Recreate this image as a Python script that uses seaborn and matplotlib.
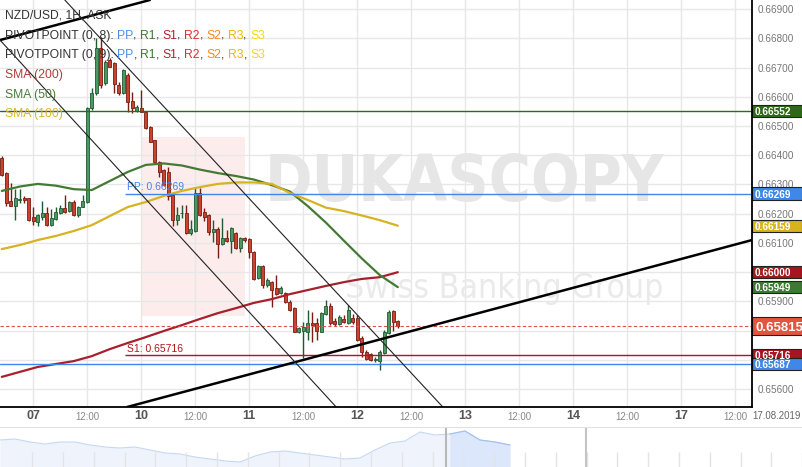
import numpy as np
import pandas as pd
import matplotlib
matplotlib.use("Agg")
import matplotlib.pyplot as plt
import matplotlib.transforms as mtransforms
from matplotlib import font_manager
from matplotlib.patches import Rectangle
import seaborn as sns

# NZD/USD 1H ask candles, hour 0 = day "07" 00:00
hours = np.arange(-7, 82)
opens = [0.66391, 0.66339, 0.66244, 0.66228, 0.66247, 0.66255, 0.66253, 0.66188, 0.66173, 0.66188,
         0.66201, 0.66162, 0.66182, 0.66201, 0.66219, 0.66210, 0.66241, 0.66196, 0.66224, 0.66240,
         0.66561, 0.66612, 0.66766, 0.66646, 0.66726, 0.66714, 0.66640, 0.66612, 0.66675, 0.66587,
         0.66552, 0.66563, 0.66549, 0.66498, 0.66452, 0.66378, 0.66350, 0.66343, 0.66264, 0.66179,
         0.66201, 0.66202, 0.66135, 0.66142, 0.66270, 0.66205, 0.66196, 0.66138, 0.66147, 0.66096,
         0.66116, 0.66108, 0.66135, 0.66082, 0.66116, 0.66113, 0.66070, 0.65979, 0.66022, 0.65956,
         0.65968, 0.65945, 0.65929, 0.65929, 0.65899, 0.65877, 0.65797, 0.65800, 0.65797, 0.65827,
         0.65825, 0.65797, 0.65858, 0.65885, 0.65834, 0.65822, 0.65839, 0.65826, 0.65844, 0.65844,
         0.65775, 0.65727, 0.65720, 0.65700, 0.65696, 0.65724, 0.65792, 0.65867, 0.65833]
highs = [0.66399, 0.66343, 0.66305, 0.66285, 0.66285, 0.66261, 0.66254, 0.66224, 0.66199, 0.66244,
         0.66224, 0.66216, 0.66224, 0.66230, 0.66264, 0.66244, 0.66247, 0.66227, 0.66264, 0.66566,
         0.66629, 0.66801, 0.66804, 0.66726, 0.66733, 0.66719, 0.66651, 0.66695, 0.66681, 0.66617,
         0.66572, 0.66623, 0.66551, 0.66500, 0.66453, 0.66380, 0.66353, 0.66360, 0.66271, 0.66223,
         0.66230, 0.66230, 0.66179, 0.66293, 0.66288, 0.66220, 0.66199, 0.66179, 0.66153, 0.66184,
         0.66144, 0.66155, 0.66138, 0.66120, 0.66121, 0.66118, 0.66073, 0.66025, 0.66025, 0.65980,
         0.65970, 0.65990, 0.65953, 0.65932, 0.65905, 0.65881, 0.65813, 0.65830, 0.65871, 0.65865,
         0.65844, 0.65864, 0.65905, 0.65895, 0.65844, 0.65853, 0.65853, 0.65888, 0.65858, 0.65853,
         0.65782, 0.65734, 0.65724, 0.65710, 0.65734, 0.65802, 0.65871, 0.65871, 0.65837]
lows = [0.66330, 0.66227, 0.66225, 0.66179, 0.66237, 0.66237, 0.66175, 0.66162, 0.66158, 0.66179,
        0.66158, 0.66158, 0.66179, 0.66199, 0.66204, 0.66206, 0.66192, 0.66189, 0.66223, 0.66238,
        0.66555, 0.66606, 0.66630, 0.66640, 0.66702, 0.66613, 0.66606, 0.66609, 0.66549, 0.66546,
        0.66548, 0.66548, 0.66490, 0.66445, 0.66377, 0.66327, 0.66295, 0.66247, 0.66158, 0.66162,
        0.66185, 0.66131, 0.66127, 0.66138, 0.66192, 0.66175, 0.66127, 0.66104, 0.66049, 0.66093,
        0.66104, 0.66066, 0.66080, 0.66070, 0.66104, 0.66049, 0.65973, 0.65977, 0.65946, 0.65949,
        0.65882, 0.65922, 0.65925, 0.65895, 0.65867, 0.65796, 0.65792, 0.65707, 0.65768, 0.65762,
        0.65768, 0.65796, 0.65853, 0.65820, 0.65816, 0.65820, 0.65826, 0.65823, 0.65823, 0.65765,
        0.65710, 0.65700, 0.65696, 0.65693, 0.65666, 0.65720, 0.65789, 0.65799, 0.65809]
closes = [0.66332, 0.66237, 0.66228, 0.66253, 0.66252, 0.66247, 0.66179, 0.66175, 0.66196, 0.66204,
          0.66162, 0.66184, 0.66207, 0.66219, 0.66207, 0.66241, 0.66196, 0.66224, 0.66244, 0.66561,
          0.66612, 0.66766, 0.66640, 0.66719, 0.66703, 0.66644, 0.66612, 0.66692, 0.66583, 0.66561,
          0.66566, 0.66549, 0.66492, 0.66446, 0.66378, 0.66344, 0.66298, 0.66261, 0.66179, 0.66196,
          0.66204, 0.66135, 0.66147, 0.66270, 0.66196, 0.66188, 0.66138, 0.66147, 0.66096, 0.66116,
          0.66108, 0.66150, 0.66082, 0.66116, 0.66110, 0.66070, 0.65976, 0.66022, 0.65956, 0.65973,
          0.65939, 0.65925, 0.65946, 0.65899, 0.65871, 0.65797, 0.65808, 0.65814, 0.65826, 0.65820,
          0.65799, 0.65860, 0.65885, 0.65825, 0.65823, 0.65846, 0.65831, 0.65871, 0.65830, 0.65768,
          0.65727, 0.65703, 0.65700, 0.65702, 0.65727, 0.65796, 0.65864, 0.65830, 0.65815]

# moving averages, read every 4th hour
sma_hours = np.arange(-7, 82, 4)
sma200 = [0.65642, 0.65659, 0.65676, 0.65686, 0.65696, 0.65713, 0.65737, 0.65758, 0.65778, 0.65799,
          0.65819, 0.65840, 0.65860, 0.65877, 0.65895, 0.65908, 0.65925, 0.65939, 0.65953, 0.65966,
          0.65977, 0.65983, 0.66000]
sma50 = [0.66278, 0.66293, 0.66302, 0.66296, 0.66284, 0.66281, 0.66312, 0.66343, 0.66367, 0.66372,
         0.66365, 0.66351, 0.66339, 0.66329, 0.66317, 0.66298, 0.66276, 0.66226, 0.66170, 0.66108,
         0.66047, 0.65990, 0.65949]
sma100 = [0.66079, 0.66093, 0.66110, 0.66124, 0.66141, 0.66161, 0.66192, 0.66223, 0.66240, 0.66261,
          0.66278, 0.66291, 0.66302, 0.66307, 0.66307, 0.66302, 0.66271, 0.66247, 0.66221, 0.66209,
          0.66194, 0.66178, 0.66159]

# pivot / level lines
pp_level = 0.66269
s1_level = 0.65716
upper_level = 0.66552
lower_level = 0.65687
last_price = 0.65815
pivot_start = 20.4

# drawn trend lines, (hour, price) anchor pairs
trend_main = [(21.1, 0.65540), (159.7, 0.66110)]
trend_upper = [(-7.4, 0.66794), (25.9, 0.66931)]
channel_a = [(7.0, 0.66931), (91.0, 0.65539)]
channel_b = [(-7.4, 0.66794), (67.3, 0.65539)]

day_hours = [0, 24, 48, 72, 96, 120, 144]
day_labels = ["07", "10", "11", "12", "13", "14", "17"]
mid_hours = [12, 36, 60, 84, 108, 132, 156]
price_ticks = np.arange(656, 670) / 1000
hidden_ticks = [0.657, 0.658, 0.660]   # covered by price tags

# price tags on the right axis (drawn in this order)
tag_prices = [0.66552, 0.66269, 0.66159, 0.66000, 0.65949, 0.65716, 0.65687, 0.65815]
tag_colors = ["#2d6a17", "#3f87e8", "#d8b31e", "#a5161f", "#3c7a31", "#a5161f", "#3f87e8", "#e2553e"]

# navigator (long history) levels
nav_level = [27, 28, 25, 23, 25, 25, 22, 20, 19, 20, 17, 14, 13, 10, 8, 6, 5, 11, 15, 16,
             14, 12, 10, 8, 9, 17, 24, 26, 35, 32, 33, 36, 27, 25, 22]

sns.set_style("white")
plt.rcParams['font.family'] = ['Liberation Sans', 'DejaVu Sans']

fig = plt.figure(figsize=(8.03, 4.67), dpi=100)
ax = fig.add_axes([0, 60 / 467, 752 / 803, 407 / 467])
ax.set_xlim(-7.4, 159.7)
ax.set_ylim(0.65539, 0.66931)

# grid
ax.set_xticks(day_hours)
ax.set_xticklabels(day_labels)
ax.set_xticks(mid_hours, minor=True)
ax.set_xticklabels(["12:00"] * len(mid_hours), minor=True)
ax.set_yticks(price_ticks)
ax.set_yticklabels(["" if any(abs(p - q) < 1e-7 for q in hidden_ticks) else f"{p:.5f}"
                    for p in price_ticks])
ax.yaxis.tick_right()
ax.grid(True, which="both", color="#e7e7e7", lw=1, zorder=0)
ax.set_axisbelow(True)
ax.tick_params(axis="y", length=0, pad=4, labelsize=7.2, labelcolor="#777777")
ax.tick_params(axis="x", which="major", length=0, pad=2.5, labelsize=9, labelcolor="#555555")
ax.tick_params(axis="x", which="minor", length=0, pad=3.5, labelsize=7, labelcolor="#888888")
for lab in ax.get_xticklabels():
    lab.set_fontweight("bold")
for side in ["left", "top"]:
    ax.spines[side].set_visible(False)
for side in ["right", "bottom"]:
    ax.spines[side].set_color("black")
    ax.spines[side].set_linewidth(1.3)
    ax.spines[side].set_zorder(20)

# watermark
names = {f.name for f in font_manager.fontManager.ttflist}
wm_font = "Liberation Sans Narrow" if "Liberation Sans Narrow" in names else "DejaVu Sans"
ax.add_patch(Rectangle((0.1875, 0.224), 0.138, 0.44, transform=ax.transAxes,
                       color="#fcecec", zorder=0.5, lw=0))
wm1 = ax.text(0.618, 0.55, "DUKASCOPY", transform=ax.transAxes, ha="center", va="center",
              fontsize=50, fontweight="heavy", fontstretch="condensed", color="#e6e6e6",
              family=wm_font, zorder=0.6)
wm2 = ax.text(0.67, 0.29, "Swiss Banking Group", transform=ax.transAxes, ha="center",
              va="center", fontsize=30, fontstretch="condensed", color="#eaeaea",
              family=wm_font, zorder=0.6)
fig.canvas.draw()
wm1.set_fontsize(50 * 400 / wm1.get_window_extent().width)
wm2.set_fontsize(30 * 318 / wm2.get_window_extent().width)

# candles
df = pd.DataFrame(dict(hour=hours, open=opens, high=highs, low=lows, close=closes))
up = df["close"] >= df["open"]
fill = np.where(up, "#4b9862", "#c9432f")
edge = np.where(up, "#1f5a32", "#7a1c12")
ax.vlines(df["hour"], df["low"], df["high"], colors=edge, lw=1, zorder=4)
body = (df["close"] - df["open"]).abs().clip(lower=0.00003)
ax.bar(df["hour"], body, bottom=df[["open", "close"]].min(axis=1), width=0.66,
       color=fill, edgecolor=edge, linewidth=0.6, zorder=5)

# moving averages
sma_df = pd.DataFrame(dict(hour=sma_hours, sma200=sma200, sma50=sma50, sma100=sma100))
sns.lineplot(data=sma_df, x="hour", y="sma200", ax=ax, color="#a8202b", lw=1.6, zorder=6)
sns.lineplot(data=sma_df, x="hour", y="sma50", ax=ax, color="#447a34", lw=1.6, zorder=6)
sns.lineplot(data=sma_df, x="hour", y="sma100", ax=ax, color="#d6b321", lw=1.6, zorder=6)
ax.set_xlabel("")
ax.set_ylabel("")

# horizontal levels
ax.axhline(upper_level, color="#2d6a17", lw=1, zorder=7)
ax.axhline(lower_level, color="#3f87e8", lw=1, zorder=7)
ax.hlines(pp_level, pivot_start, 159.7, color="#3f87e8", lw=1, zorder=7)
ax.hlines(s1_level, pivot_start, 159.7, color="#b0141c", lw=1, zorder=7)
ax.axhline(last_price, color="#d9534f", lw=0.8, ls=(0, (3, 2)), zorder=7)
ax.annotate(f"PP: {pp_level:.5f}", (pivot_start + 0.4, pp_level), xytext=(0, 1),
            textcoords="offset points", va="bottom", fontsize=7.5, color="#3f87e8", zorder=8)
ax.annotate(f"S1: {s1_level:.5f}", (pivot_start + 0.4, s1_level), xytext=(0, 1),
            textcoords="offset points", va="bottom", fontsize=7.5, color="#b0141c", zorder=8)

# trend lines
ax.axline(*trend_main, color="black", lw=1.8, zorder=8)
ax.axline(*trend_upper, color="black", lw=1.8, zorder=8)
ax.axline(*channel_a, color="#222222", lw=0.8, zorder=8)
ax.axline(*channel_b, color="#222222", lw=0.8, zorder=8)

# price tags
tag_tr = mtransforms.blended_transform_factory(ax.transAxes, ax.transData)
for price, col in zip(tag_prices, tag_colors):
    big = price == last_price
    h = 0.00062 if big else 0.00042
    ax.add_patch(Rectangle((1.0, price - h / 2), 50 / 752, h, transform=tag_tr, clip_on=False,
                           facecolor=col, edgecolor="#222222", lw=0.8, zorder=15))
    ax.text(1.004, price, f"{price:.5f}", transform=tag_tr, va="center_baseline", ha="left",
            fontsize=9.5 if big else 7.2, fontweight="bold", color="white", zorder=16,
            clip_on=False)

# legend-style header
def header(parts, y_px):
    t = ax.text(5 / 752, 1 - (y_px + 6) / 407, parts[0][0], transform=ax.transAxes,
                va="bottom", ha="left", fontsize=8.7, color=parts[0][1], zorder=18)
    for s, c in parts[1:]:
        t = ax.annotate(s, xy=(1, 0), xycoords=t, va="bottom", ha="left",
                        fontsize=8.7, color=c, zorder=18)

dark = "#333333"
pivot_parts = [("PP", "#4a8fe7"), (", ", dark), ("R1", "#3c7a2e"), (", ", dark), ("S1", "#b4232a"),
               (", ", dark), ("R2", "#e52b2b"), (", ", dark), ("S2", "#f08a24"), (", ", dark),
               ("R3", "#f2b705"), (", ", dark), ("S3", "#f1dc14")]
header([("NZD/USD, 1H, ASK", dark)], 16)
header([("PIVOTPOINT (0, 8): ", dark)] + pivot_parts, 36)
header([("PIVOTPOINT (0, 9): ", dark)] + pivot_parts, 55)
header([("SMA (200)", "#b23a3a")], 75)
header([("SMA (50)", "#4a7a3d")], 95)
header([("SMA (100)", "#d9b52a")], 114)

fig.text(777 / 803, 1 - 416 / 467, "17.08.2019", ha="center", va="center",
         fontsize=7, color="#666666")

# navigator strip
nav = fig.add_axes([0, 0, 1, 40 / 467])
idx = np.arange(len(nav_level))
nav.set_xlim(0, 803 / 15)
nav.set_ylim(0, 40)
nav.fill_between(idx, 0, nav_level, color="#eef3fc", lw=0)
nav.plot(idx, nav_level, color="#c5d7f3", lw=0.8)
win = idx >= 29.7
nav.fill_between(idx, 0, nav_level, where=win, color="#dce7fb", lw=0)
nav.plot(idx[win], np.array(nav_level)[win], color="#a3c0ef", lw=0.8)
nav.vlines(np.arange(2.15, 53.5, 2.053), 0, 15, color="#e4e4e4", lw=1)
nav.axvline(29.73, color="#b8b8b8", lw=1.5)
nav.axvline(39.07, color="#c4c4c4", lw=1.5)
nav.set_xticks([])
nav.set_yticks([])
for side in ["left", "right", "bottom"]:
    nav.spines[side].set_visible(False)
nav.spines["top"].set_color("#e2e2e2")

fig.savefig("out.png", dpi=100)
